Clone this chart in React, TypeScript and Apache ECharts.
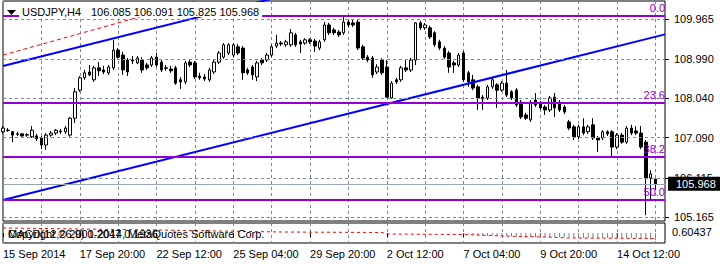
import React, { useEffect, useRef } from 'react';
import * as echarts from 'echarts';

const SYMBOL = 'USDJPY,H4';
const QUOTE = '106.085 106.091 105.825 105.968';
const MACD_TITLE = 'MACD(12,26,9) 0.2047 0.1936';
const COPYRIGHT = 'Copyright © 2001-2014, MetaQuotes Software Corp.';
const MACD_SCALE_LABEL = '0.60437';

const OPEN = [
  107.23, 107.27, 107.23, 107.18, 107.18, 107.15, 107.11, 107.13, 107.08, 106.91,
  107.15, 107.20, 107.25, 107.23, 107.15, 107.56, 108.24, 108.54, 108.68, 108.49,
  108.78, 108.73, 108.66, 108.78, 109.21, 109.09, 108.97, 108.97, 108.90, 108.97,
  108.85, 108.85, 109.04, 108.92, 108.78, 108.75, 108.78, 108.49, 108.44, 108.92,
  108.90, 108.58, 108.56, 108.49, 108.68, 108.92, 109.04, 109.14, 109.09, 109.29,
  109.26, 108.73, 108.80, 108.56, 108.97, 108.97, 109.09, 109.31, 109.38, 109.34,
  109.34, 109.58, 109.41, 109.38, 109.46, 109.43, 109.26, 109.46, 109.82, 109.70,
  109.65, 109.63, 109.89, 109.87, 109.89, 109.29, 109.04, 109.02, 108.68, 108.97,
  108.80, 108.05, 108.49, 108.49, 108.78, 108.73, 108.97, 109.87, 109.75, 109.75,
  109.63, 109.41, 109.26, 109.14, 108.90, 108.85, 109.14, 108.66, 108.49, 108.32,
  108.07, 108.05, 108.32, 108.37, 108.24, 108.41, 108.20, 108.24, 107.95, 107.64,
  107.52, 108.00, 107.93, 107.83, 107.76, 108.07, 107.95, 107.83, 107.47, 107.35,
  107.11, 107.35, 107.23, 107.40, 107.08, 107.08, 107.23, 107.23, 106.86, 107.15,
  106.98, 107.32, 107.25, 107.20, 106.98, 106.11, 106.085,
];
const CLOSE = [
  107.32, 107.26, 107.15, 107.17, 107.13, 107.16, 107.27, 107.06, 106.91, 107.15,
  107.20, 107.27, 107.23, 107.32, 107.56, 108.20, 108.54, 108.66, 108.61, 108.78,
  108.71, 108.68, 108.80, 109.21, 109.04, 108.73, 108.68, 108.95, 109.02, 108.73,
  108.78, 109.02, 108.85, 108.73, 108.77, 108.71, 108.41, 108.44, 108.90, 108.85,
  108.56, 108.54, 108.51, 108.73, 108.92, 109.14, 109.34, 109.34, 109.34, 109.14,
  108.66, 108.66, 108.61, 108.90, 108.90, 109.09, 109.29, 109.38, 109.36, 109.41,
  109.63, 109.34, 109.36, 109.46, 109.41, 109.31, 109.41, 109.82, 109.63, 109.63,
  109.58, 109.89, 109.82, 109.82, 109.26, 109.02, 108.97, 108.61, 108.80, 108.66,
  108.07, 108.41, 108.44, 108.78, 108.73, 108.97, 109.87, 109.75, 109.82, 109.53,
  109.34, 109.26, 109.04, 108.80, 108.85, 109.09, 108.49, 108.44, 108.29, 108.05,
  108.03, 108.32, 108.49, 108.24, 108.41, 108.12, 108.05, 107.88, 107.59, 107.56,
  107.95, 107.88, 107.81, 107.76, 108.05, 107.81, 107.76, 107.71, 107.32, 107.11,
  107.35, 107.20, 107.35, 107.08, 107.03, 107.23, 107.18, 106.86, 107.15, 106.98,
  107.32, 107.20, 107.20, 106.86, 106.11, 106.21, 105.968,
];
const HIGH = [
  107.37, 107.32, 107.25, 107.23, 107.20, 107.20, 107.37, 107.18, 107.13, 107.20,
  107.25, 107.30, 107.30, 107.37, 107.59, 108.29, 108.58, 108.73, 108.85, 108.83,
  108.92, 108.83, 108.85, 109.46, 109.26, 109.17, 109.02, 109.07, 109.07, 109.04,
  108.90, 109.07, 109.14, 108.97, 108.85, 108.83, 108.83, 108.56, 108.95, 108.97,
  108.95, 108.66, 108.63, 108.78, 108.97, 109.19, 109.38, 109.38, 109.38, 109.36,
  109.31, 108.78, 108.85, 108.95, 109.02, 109.14, 109.34, 109.58, 109.43, 109.46,
  109.72, 109.63, 109.46, 109.50, 109.50, 109.48, 109.46, 109.89, 109.87, 109.75,
  109.70, 110.06, 109.94, 109.94, 109.94, 109.34, 109.09, 109.07, 108.87, 109.02,
  108.97, 108.46, 108.54, 108.83, 108.97, 109.02, 109.89, 109.92, 109.87, 109.80,
  109.67, 109.46, 109.31, 109.19, 108.95, 109.14, 109.19, 108.71, 108.61, 108.37,
  108.12, 108.37, 108.54, 108.41, 108.46, 108.73, 108.24, 108.29, 108.00, 107.69,
  108.00, 108.17, 107.98, 107.88, 108.10, 108.17, 108.00, 107.88, 107.52, 107.40,
  107.40, 107.56, 107.40, 107.56, 107.13, 107.27, 107.27, 107.27, 107.20, 107.20,
  107.37, 107.40, 107.37, 107.37, 107.03, 106.30, 106.091,
];
const LOW = [
  107.18, 107.23, 106.98, 107.13, 107.11, 107.11, 107.08, 107.01, 106.81, 106.79,
  107.11, 107.15, 107.18, 107.18, 107.11, 107.44, 108.20, 108.49, 108.58, 108.44,
  108.58, 108.63, 108.61, 108.73, 109.00, 108.61, 108.58, 108.87, 108.87, 108.66,
  108.73, 108.80, 108.80, 108.68, 108.71, 108.66, 108.37, 108.27, 108.39, 108.80,
  108.51, 108.49, 108.46, 108.44, 108.63, 108.87, 109.00, 109.09, 109.04, 109.09,
  108.49, 108.61, 108.49, 108.46, 108.85, 108.92, 109.04, 109.26, 109.31, 109.29,
  109.29, 109.29, 109.14, 109.34, 109.36, 109.17, 109.21, 109.41, 109.58, 109.58,
  109.53, 109.58, 109.77, 109.77, 109.21, 108.97, 108.92, 108.54, 108.63, 108.61,
  108.05, 108.03, 108.39, 108.44, 108.68, 108.68, 108.85, 109.70, 109.70, 109.48,
  109.29, 109.21, 109.00, 108.66, 108.66, 108.80, 108.44, 108.32, 108.24, 107.76,
  107.76, 108.00, 108.27, 107.81, 108.20, 108.07, 108.00, 107.83, 107.54, 107.52,
  107.47, 107.83, 107.76, 107.64, 107.71, 107.59, 107.71, 107.66, 107.27, 107.03,
  107.06, 107.15, 107.18, 107.03, 106.74, 107.03, 107.13, 106.62, 106.81, 106.94,
  106.94, 107.15, 107.15, 106.81, 105.21, 105.58, 105.825,
];

const SLOTS = 139;
const CATS = Array.from({ length: SLOTS }, (_, i) => String(i));
const LABEL_STEP = 16;
const GRID_STEP = 8;
const TIME_LABELS = [
  '15 Sep 2014', '17 Sep 20:00', '22 Sep 12:00', '25 Sep 04:00', '29 Sep 20:00',
  '2 Oct 12:00', '7 Oct 04:00', '9 Oct 20:00', '14 Oct 12:00',
];
const PRICE_TICKS = [109.965, 108.99, 108.04, 107.09, 106.115, 105.165];
const FIB_LEVELS = ['0.0', '23.6', '38.2', '50.0'];
const FIB_PRICES = [110.04, 107.935, 106.63, 105.577];
const BID = 105.968;
const CHANNEL_UPPER = [[0, 108.826], [60, 110.57]];
const CHANNEL_LOWER = [[0, 105.577], [138, 109.592]];
const RED_TREND = [[0, 109.09], [40, 110.39]];
const MACD_SIGNAL = [
  [0, 0.5], [32, 0.3], [58, 0.1], [79, 0.05], [80, -0.1], [96, -0.15],
  [104, -0.3], [113, -0.4], [118, -0.5], [136, -0.55],
];
const MACD_HIST = [
  [96, -0.1], [97, -0.15], [98, -0.2], [99, -0.25], [100, -0.3], [101, -0.3], [102, -0.28],
  [103, -0.3], [104, -0.32], [105, -0.33], [106, -0.35], [107, -0.38], [108, -0.42],
  [109, -0.45], [110, -0.43], [111, -0.42], [112, -0.42], [113, -0.43], [114, -0.4],
  [115, -0.4], [116, -0.42], [117, -0.43], [118, -0.46], [119, -0.5], [120, -0.5],
  [121, -0.5], [122, -0.48], [123, -0.5], [124, -0.52], [125, -0.5], [126, -0.5],
  [127, -0.53], [128, -0.52], [129, -0.52], [130, -0.5], [131, -0.5], [132, -0.5],
  [133, -0.52], [134, -0.6], [135, -0.65], [136, -0.7],
];

const FONT = '"Liberation Sans", Arial, sans-serif';
const GRID_COLOR = '#7a8a99';
const FIB_COLOR = '#9400d3';

export default function App() {
  const ref = useRef<HTMLDivElement>(null);
  useEffect(() => {
    if (!ref.current) return;
    const chart = echarts.init(ref.current, undefined, { renderer: 'svg' });
    const every = (n: number) => (i: number) => i % n === 0;
    const dashed = { color: GRID_COLOR, type: [3, 3] as any, width: 1 };
    chart.setOption({
      animation: false,
      backgroundColor: '#ffffff',
      textStyle: { fontFamily: FONT },
      grid: [
        { left: 3, right: 55, top: 1, height: 220, show: true, borderColor: '#000', borderWidth: 1 },
        { left: 3, right: 55, top: 223, height: 20, show: true, borderColor: '#000', borderWidth: 1 },
      ],
      xAxis: [
        {
          type: 'category', gridIndex: 0, data: CATS, boundaryGap: false,
          axisLine: { show: false }, axisTick: { show: false }, axisLabel: { show: false },
          splitLine: { show: true, interval: every(GRID_STEP), lineStyle: dashed },
        },
        {
          type: 'category', gridIndex: 1, data: CATS, boundaryGap: false,
          axisLine: { show: false },
          axisTick: { show: true, interval: every(LABEL_STEP), length: 4, lineStyle: { color: '#000' } },
          axisLabel: {
            interval: every(LABEL_STEP),
            formatter: (_v: string, i: number) => TIME_LABELS[i / LABEL_STEP] ?? '',
            align: 'left', margin: 5, color: '#000', fontSize: 11, fontFamily: FONT,
          },
          splitLine: { show: true, interval: every(GRID_STEP), lineStyle: dashed },
        },
      ],
      yAxis: [
        {
          type: 'value', gridIndex: 0, position: 'right', min: 105.068, max: 110.401, scale: true,
          axisLine: { show: false },
          axisTick: { show: true, customValues: PRICE_TICKS, length: 4, lineStyle: { color: '#000' } },
          axisLabel: {
            customValues: PRICE_TICKS, formatter: (v: number) => v.toFixed(3),
            margin: 9, color: '#000', fontSize: 11, fontFamily: FONT,
          },
          splitLine: { show: false },
        },
        { type: 'value', gridIndex: 1, min: -1, max: 1, show: false, splitLine: { show: false } },
      ],
      series: [
        {
          type: 'line', name: 'grid', xAxisIndex: 0, yAxisIndex: 0, data: CLOSE,
          showSymbol: false, silent: true, lineStyle: { opacity: 0 }, z: 1,
          markLine: {
            silent: true, symbol: ['none', 'none'], label: { show: false },
            lineStyle: dashed,
            data: PRICE_TICKS.map((v) => ({ yAxis: v })),
          },
        },
        {
          type: 'candlestick', name: SYMBOL, xAxisIndex: 0, yAxisIndex: 0,
          data: OPEN.map((o, i) => [o, CLOSE[i], LOW[i], HIGH[i]]),
          barWidth: 3, z: 2,
          itemStyle: { color: '#ffffff', color0: '#000000', borderColor: '#000000', borderColor0: '#000000', borderWidth: 1 },
        },
        {
          type: 'line', name: 'red trend', xAxisIndex: 0, yAxisIndex: 0, data: RED_TREND,
          showSymbol: false, silent: true, z: 3,
          lineStyle: { color: '#ff0000', width: 1, type: [4, 3] as any },
        },
        {
          type: 'line', name: 'channel upper', xAxisIndex: 0, yAxisIndex: 0, data: CHANNEL_UPPER,
          showSymbol: false, silent: true, z: 3, lineStyle: { color: '#0000ff', width: 2 },
        },
        {
          type: 'line', name: 'channel lower', xAxisIndex: 0, yAxisIndex: 0, data: CHANNEL_LOWER,
          showSymbol: false, silent: true, z: 3, lineStyle: { color: '#0000ff', width: 2 },
          markLine: {
            silent: true, symbol: ['none', 'none'],
            data: [
              ...FIB_PRICES.map((p, i) => ({
                yAxis: p,
                lineStyle: { color: FIB_COLOR, width: 2, type: 'solid' },
                label: {
                  show: true, position: 'insideEndTop', formatter: FIB_LEVELS[i],
                  color: FIB_COLOR, fontSize: 11, fontFamily: FONT, distance: [0, 2],
                },
              })),
              {
                yAxis: BID,
                lineStyle: { color: '#98a4b0', width: 1, type: 'solid' },
                label: {
                  show: true, position: 'end', formatter: BID.toFixed(3),
                  backgroundColor: '#000', color: '#fff', fontSize: 11, fontFamily: FONT,
                  padding: [1, 6, 0, 8], lineHeight: 13, distance: 3,
                },
              },
            ],
          },
        },
        {
          type: 'bar', name: 'MACD', xAxisIndex: 1, yAxisIndex: 1, data: MACD_HIST,
          barWidth: 1, silent: true, itemStyle: { color: '#808080' },
        },
        {
          type: 'line', name: 'Signal', xAxisIndex: 1, yAxisIndex: 1, data: MACD_SIGNAL,
          showSymbol: false, silent: true, lineStyle: { color: '#ff0000', width: 1, type: [3, 3] as any },
        },
      ],
      graphic: [
        { type: 'rect', z: 100, shape: { x: 19, y: 2, width: 243, height: 15 }, style: { fill: '#ffffff' } },
        { type: 'polygon', z: 101, shape: { points: [[7, 10], [16, 10], [11.5, 15]] }, style: { fill: '#000' } },
        { type: 'text', z: 101, x: 22, y: 12, style: { text: SYMBOL, font: `11px ${FONT}`, fill: '#000', verticalAlign: 'middle' } },
        { type: 'text', z: 101, x: 91, y: 12, style: { text: QUOTE, font: `11px ${FONT}`, fill: '#000', verticalAlign: 'middle' } },
        { type: 'text', z: 101, x: 8, y: 234, style: { text: MACD_TITLE, font: `11px ${FONT}`, fill: '#000', verticalAlign: 'middle' } },
        { type: 'text', z: 101, x: 8, y: 234, style: { text: COPYRIGHT, font: `11px ${FONT}`, fill: '#000', verticalAlign: 'middle' } },
        { type: 'text', z: 101, x: 672, y: 232, style: { text: MACD_SCALE_LABEL, font: `11px ${FONT}`, fill: '#000', verticalAlign: 'middle' } },
      ],
    });
    return () => chart.dispose();
  }, []);
  return (
    <div
      ref={ref}
      style={{ position: 'absolute', left: 0, top: 0, width: 720, height: 264, background: '#fff' }}
    />
  );
}
